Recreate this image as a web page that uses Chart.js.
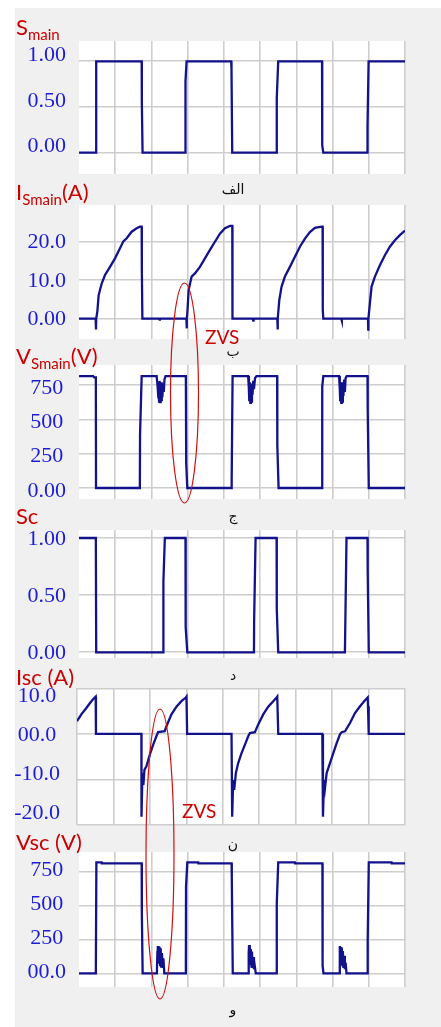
<!DOCTYPE html>
<html>
<head>
<meta charset="utf-8">
<script src="https://cdn.jsdelivr.net/npm/chart.js@4.4.0/dist/chart.umd.min.js"></script>
<style>
  html, body { margin: 0; padding: 0; background: #fff; }
  #page { position: relative; width: 441px; height: 1027px; overflow: hidden; }
  #bg { position: absolute; left: 15px; top: 8px; right: 0; bottom: 0; background: #f0f0f0; }
  .pane { position: absolute; left: 0; width: 441px; }
  .name { position: absolute; left: 16px; color: #cc0000; font-family: Lato, sans-serif; font-size: 22px; line-height: 1; white-space: nowrap; }
  .name sub { font-size: 15px; vertical-align: -5px; line-height: 1; }
  .cap { position: absolute; left: 0; width: 466px; text-align: center; font-family: "DejaVu Sans", sans-serif; font-size: 14px; line-height: 1; color: #111; }
  .zvs { position: absolute; color: #cc0000; font-family: Lato, sans-serif; font-size: 19px; line-height: 1; }
  #marks { position: absolute; left: 0; top: 0; }
</style>
</head>
<body>
<div id="page">
  <div id="bg"></div>
</div>
<script>
// time axis: 9 grid divisions, no tick labels
const xTicks = [0, 1, 2, 3, 4, 5, 6, 7, 8, 9];

// S_main gate signal
const smainT = [0, 0.47, 0.475, 1.73, 1.735, 1.755, 2.935, 2.94, 2.97, 4.2, 4.21, 4.23, 5.455, 5.46, 5.5, 6.71, 6.715, 6.745, 7.96, 7.965, 7.995, 9];
const smainV = [0, 0, 1, 1, 0.55, 0, 0, 0.78, 1, 1, 0.92, 0, 0, 0.6, 1, 1, 0.08, 0, 0, 0.28, 1, 1];
const smainTicks = [0, 0.5, 1];
const smainLabels = ['0.00', '0.50', '1.00'];

// I_Smain (A)
const ismainT = [0, 0.46, 0.469, 0.475, 0.506, 0.543, 0.626, 0.718, 0.856, 0.994, 1.132, 1.224, 1.316, 1.454, 1.592, 1.684, 1.73, 1.735, 1.75,
  2.22, 2.23, 2.24,
  2.965, 2.971, 2.98, 2.99, 3.027, 3.109, 3.201, 3.339, 3.477, 3.615, 3.753, 3.891, 4.029, 4.167, 4.232, 4.237,
  4.8, 4.81, 4.82,
  5.475, 5.483, 5.49, 5.529, 5.593, 5.685, 5.823, 5.961, 6.099, 6.237, 6.375, 6.513, 6.697, 6.725, 6.73, 6.745,
  7.24, 7.25, 7.26,
  7.978, 7.985, 7.99, 8.031, 8.077, 8.169, 8.307, 8.445, 8.583, 8.721, 8.859, 9];
const ismainV = [0, 0, -2.8, 0, 1.8, 6.1, 9.1, 11.3, 13.4, 15.6, 18.2, 20, 20.8, 22.5, 23.4, 23.8, 23.8, 12.6, 0,
  0, -0.5, 0,
  0, -2.5, 0, 1.4, 7.4, 10.9, 11.7, 13.4, 15.6, 17.8, 19.9, 22, 23.4, 24, 24, 0,
  0, -0.5, 0,
  0, -2.8, 0, 4.8, 8.3, 10.9, 13.4, 16, 18.6, 20.7, 22.4, 23.5, 23.8, 23.8, 2.2, 0,
  0, -0.5, 0,
  0, -2.8, 0, 4.0, 8.3, 10.9, 13.8, 16.4, 18.6, 20.3, 21.6, 22.8];
const ismainTicks = [0, 10, 20];
const ismainLabels = ['0.00', '10.0', '20.0'];

// V_Smain (V)
const vsmainT = [0, 0.39, 0.42, 0.465, 0.47, 1.68, 1.685, 1.73,
  2.144, 2.17, 2.19, 2.2, 2.21, 2.225, 2.24, 2.255, 2.27, 2.285, 2.3, 2.32, 2.34, 2.36, 2.39,
  2.95, 2.96, 2.99, 4.21, 4.215, 4.24,
  4.67, 4.69, 4.7, 4.715, 4.73, 4.745, 4.76, 4.775, 4.79, 4.81, 4.83, 4.86, 4.9,
  5.47, 5.475, 5.51, 6.71, 6.715, 6.745,
  7.18, 7.2, 7.21, 7.225, 7.24, 7.255, 7.27, 7.285, 7.3, 7.32, 7.34, 7.36, 7.39,
  7.965, 7.97, 8.0, 9];
const vsmainV = [815, 815, 805, 805, 0, 0, 386, 815,
  815, 740, 660, 760, 630, 780, 625, 750, 640, 770, 660, 740, 700, 790, 815,
  815, 180, 0, 0, 60, 815,
  815, 720, 640, 770, 620, 760, 630, 750, 680, 780, 720, 800, 815,
  815, 313, 0, 0, 738, 815,
  815, 720, 640, 770, 620, 770, 630, 760, 670, 790, 700, 800, 815,
  815, 580, 0, 0];
const vsmainTicks = [0, 250, 500, 750];
const vsmainLabels = ['0.00', '250', '500', '750'];

// Sc gate signal
const scT = [0, 0.465, 0.475, 2.325, 2.33, 2.37, 2.94, 2.945, 2.99, 4.83, 4.835, 4.875, 5.455, 5.46, 5.5, 7.34, 7.345, 7.385, 7.965, 7.97, 8.0, 9];
const scV = [1, 1, 0, 0, 0.62, 1, 1, 0.22, 0, 0, 0.28, 1, 1, 0.38, 0, 0, 0.08, 1, 1, 0.72, 0, 0];
const scTicks = [0, 0.5, 1];
const scLabels = ['0.00', '0.50', '1.00'];

// Isc (A)
const iscT = [0, 0.119, 0.256, 0.394, 0.485, 0.513, 0.52,
  1.767, 1.77, 1.795, 1.822, 1.85, 1.905, 1.996, 2.088, 2.179, 2.225, 2.408, 2.454, 2.592, 2.729, 2.866, 2.985, 3.004, 3.022,
  4.24, 4.258, 4.286, 4.313, 4.359, 4.423, 4.515, 4.606, 4.698, 4.744, 4.881, 4.973, 5.11, 5.247, 5.385, 5.476, 5.495, 5.522,
  6.731, 6.749, 6.777, 6.804, 6.85, 6.941, 7.033, 7.125, 7.216, 7.262, 7.354, 7.491, 7.628, 7.766, 7.903, 7.976, 7.985, 8.004, 9];
const iscV = [2.8, 4.3, 5.7, 7.2, 8.0, 8.2, 0,
  0, -18.2, -8.6, -11.2, -7.9, -7.1, -4.6, -2.4, -0.5, 0.4, 0.6, 1.7, 4.3, 6.0, 7.2, 8.0, 8.2, 0,
  0, -18.2, -10.1, -12.3, -8.6, -6.4, -4.2, -2.4, -0.5, 0.2, 0.4, 2.1, 4.3, 6.0, 7.2, 8.0, 8.2, 0,
  0, -18.2, -10.1, -11.9, -8.6, -6.4, -4.2, -2.0, -0.1, 0.4, 0.6, 2.4, 4.6, 6.1, 7.4, 8.0, 6.1, 0, 0];
const iscTicks = [-20, -10, 0, 10];
const iscLabels = ['-20.0', '-10.0', '00.0', '10.0'];

// Vsc (V)
const vscT = [0, 0.465, 0.48, 0.626, 0.63, 1.73, 1.735, 1.757,
  2.15, 2.165, 2.175, 2.19, 2.2, 2.215, 2.225, 2.24, 2.255, 2.27, 2.29, 2.31, 2.33, 2.355,
  2.95, 2.955, 2.99, 3.29, 3.295, 4.213, 4.218, 4.245,
  4.67, 4.685, 4.695, 4.71, 4.72, 4.735, 4.745, 4.76, 4.775, 4.79, 4.81, 4.83, 4.85, 4.88,
  5.455, 5.46, 5.5, 5.96, 5.965, 6.72, 6.725, 6.75,
  7.18, 7.195, 7.205, 7.22, 7.23, 7.245, 7.255, 7.27, 7.285, 7.3, 7.32, 7.34, 7.36, 7.385,
  7.965, 7.97, 8.0, 8.63, 8.635, 9];
const vscV = [0, 0, 819, 819, 811, 811, 443, 0,
  0, 160, 202, 100, 200, 80, 195, 60, 185, 50, 150, 40, 110, 0,
  0, 640, 819, 819, 811, 811, 713, 0,
  0, 150, 209, 100, 195, 70, 180, 50, 160, 40, 120, 30, 60, 0,
  0, 516, 819, 819, 811, 811, 54, 0,
  0, 150, 202, 90, 195, 70, 190, 60, 165, 40, 130, 30, 80, 0,
  0, 234, 819, 819, 811, 811];
const vscTicks = [0, 250, 500, 750];
const vscLabels = ['00.0', '250', '500', '750'];

const lineColor = '#12128c';
const gridColor = '#cdcdcd';
const tickColor = '#1c1cd9';
const tickFont = { family: 'Liberation Serif', size: 22 };

const plotBg = {
  id: 'plotBg',
  beforeDraw(chart) {
    const { ctx, chartArea: a } = chart;
    ctx.save();
    ctx.fillStyle = '#fff';
    ctx.fillRect(a.left, a.top, a.right - a.left, a.bottom - a.top);
    ctx.restore();
  }
};

const panels = [
  { top: 41, bottom: 174, left: 79, min: -0.233, max: 1.222, t: smainT, v: smainV, ticks: smainTicks, labels: smainLabels, off: -6 },
  { top: 205, bottom: 339, left: 79, min: -5.25, max: 29.4, t: ismainT, v: ismainV, ticks: ismainTicks, labels: ismainLabels, off: 1 },
  { top: 365, bottom: 499, left: 79, min: -80, max: 895.6, t: vsmainT, v: vsmainV, ticks: vsmainTicks, labels: vsmainLabels, off: 3 },
  { top: 530, bottom: 658, left: 79, min: -0.05, max: 1.07, t: scT, v: scV, ticks: scTicks, labels: scLabels, off: 1 },
  { top: 688, bottom: 825, left: 77, min: -20, max: 10.1, t: iscT, v: iscV, ticks: iscTicks, labels: iscLabels, edge: true, lmin: -23.15, lmax: 12.25 },
  { top: 852, bottom: 987, left: 79, min: -101, max: 895.4, t: vscT, v: vscV, ticks: vscTicks, labels: vscLabels, off: -1 }
];

function makePanel(p) {
  // room above and below the plot, larger than the axis' own label padding
  const pad = 32;
  const h = p.bottom - p.top + 2 * pad;
  const box = document.createElement('div');
  box.className = 'pane';
  box.style.top = (p.top - pad) + 'px';
  box.style.height = h + 'px';
  const cv = document.createElement('canvas');
  cv.width = 441;
  cv.height = h;
  cv.style.width = '441px';
  cv.style.height = h + 'px';
  box.appendChild(cv);
  document.getElementById('page').appendChild(box);

  const setTicks = list => s => { s.ticks = list.map(v => ({ value: v })); };
  const labelTicks = {
    display: true,
    callback: v => p.labels[p.ticks.indexOf(v)],
    font: tickFont,
    color: tickColor,
    crossAlign: 'center',
    padding: p.lmin !== undefined ? 9 : 13,
    labelOffset: p.off || 0
  };

  const scales = {
    x: {
      type: 'linear', min: 0, max: 9,
      afterBuildTicks: setTicks(xTicks),
      ticks: { display: false },
      border: { display: false },
      grid: {
        drawTicks: false, lineWidth: 1.6,
        color: c => (c.tick && c.tick.value === 0 && !p.edge) ? 'rgba(0,0,0,0)' : gridColor
      },
      afterFit: s => { s.height = 0; }
    },
    y: {
      min: p.min, max: p.max,
      afterBuildTicks: setTicks(p.ticks),
      ticks: p.lmin !== undefined ? { display: false } : labelTicks,
      border: { display: false },
      grid: { drawTicks: false, lineWidth: 1.6, color: gridColor },
      afterFit: s => { s.width = p.lmin !== undefined ? 0 : p.left; }
    }
  };
  if (p.lmin !== undefined) {
    // tick labels of this panel sit on their own spacing, not on the grid
    scales.yl = {
      position: 'left',
      min: p.lmin, max: p.lmax,
      afterBuildTicks: setTicks(p.ticks),
      ticks: labelTicks,
      border: { display: false },
      grid: { display: false },
      afterFit: s => { s.width = p.left; }
    };
  }

  new Chart(cv, {
    type: 'line',
    data: {
      datasets: [{
        data: p.t.map((t, i) => ({ x: t, y: p.v[i] })),
        borderColor: lineColor,
        borderWidth: 2.3,
        pointRadius: 0,
        tension: 0,
        fill: false,
        yAxisID: 'y'
      }]
    },
    options: {
      responsive: false,
      animation: false,
      events: [],
      layout: { padding: { left: 0, right: 36, top: pad, bottom: pad } },
      plugins: { legend: { display: false }, tooltip: { enabled: false } },
      scales: scales
    },
    plugins: [plotBg]
  });
}

panels.forEach(makePanel);

// text: signal names, captions, ZVS notes
const page = document.getElementById('page');
function addText(cls, html, left, top) {
  const d = document.createElement('div');
  d.className = cls;
  d.innerHTML = html;
  if (left !== null) d.style.left = left + 'px';
  d.style.top = top + 'px';
  page.appendChild(d);
}
addText('name', 'S<sub>main</sub>', 16, 16);
addText('name', 'I<sub>Smain</sub>(A)', 16, 181);
addText('name', 'V<sub>Smain</sub>(V)', 16, 345);
addText('name', 'Sc', 16, 505);
addText('name', 'Isc (A)', 16, 666);
addText('name', 'Vsc (V)', 16, 831);

addText('cap', 'الف', null, 182);
addText('cap', 'ب', null, 344);
addText('cap', 'ج', null, 509);
addText('cap', 'د', null, 668);
addText('cap', 'ن', null, 837);
addText('cap', 'و', null, 1002);

addText('zvs', 'ZVS', 205, 327);
addText('zvs', 'ZVS', 182, 801);

const ns = 'http://www.w3.org/2000/svg';
const svg = document.createElementNS(ns, 'svg');
svg.setAttribute('id', 'marks');
svg.setAttribute('width', '441');
svg.setAttribute('height', '1027');
[[184.5, 393, 14, 110], [160, 854, 14, 145]].forEach(e => {
  const el = document.createElementNS(ns, 'ellipse');
  el.setAttribute('cx', e[0]);
  el.setAttribute('cy', e[1]);
  el.setAttribute('rx', e[2]);
  el.setAttribute('ry', e[3]);
  el.setAttribute('fill', 'none');
  el.setAttribute('stroke', '#d01010');
  el.setAttribute('stroke-width', '1.2');
  svg.appendChild(el);
});
page.appendChild(svg);
</script>
</body>
</html>
